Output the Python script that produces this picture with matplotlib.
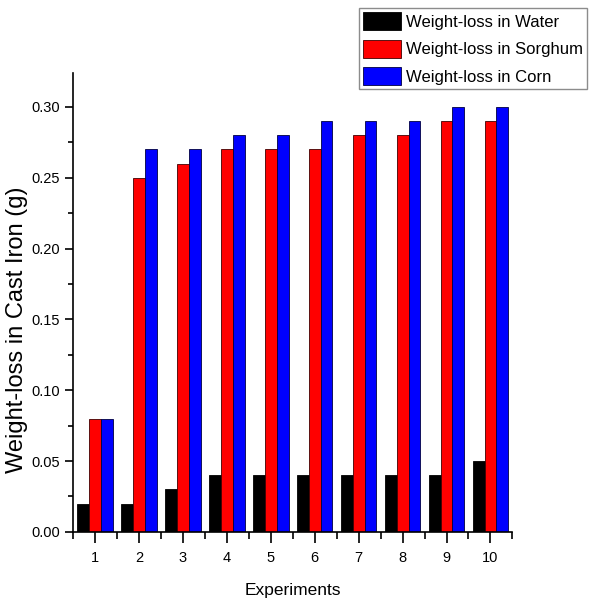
import numpy as np
import matplotlib
matplotlib.use("Agg")
import matplotlib.pyplot as plt
from matplotlib.ticker import MultipleLocator, FormatStrFormatter

plt.rcParams['font.family'] = ['Liberation Sans', 'DejaVu Sans']

# data
experiments = [1, 2, 3, 4, 5, 6, 7, 8, 9, 10]
water = [0.02, 0.02, 0.03, 0.04, 0.04, 0.04, 0.04, 0.04, 0.04, 0.05]
sorghum = [0.08, 0.25, 0.26, 0.27, 0.27, 0.27, 0.28, 0.28, 0.29, 0.29]
corn = [0.08, 0.27, 0.27, 0.28, 0.28, 0.29, 0.29, 0.29, 0.30, 0.30]
labels = ['Weight-loss in Water', 'Weight-loss in Sorghum', 'Weight-loss in Corn']

fig = plt.figure(figsize=(5.89, 6.03), dpi=100)
ax = fig.add_axes([0.124, 0.118, 0.746, 0.761])

x = np.array(experiments)
w = 0.27
ax.bar(x - w, water, w, color='black', edgecolor='black', linewidth=0.6, label=labels[0])
ax.bar(x, sorghum, w, color='#ff0000', edgecolor='#400000', linewidth=0.6, label=labels[1])
ax.bar(x + w, corn, w, color='#0000ff', edgecolor='#000040', linewidth=0.6, label=labels[2])

ax.set_xlim(0.5, 10.5)
ax.set_ylim(0, 0.324)
ax.set_xticks(experiments)
ax.xaxis.set_minor_locator(MultipleLocator(1, offset=0.5))
ax.yaxis.set_major_locator(MultipleLocator(0.05))
ax.yaxis.set_minor_locator(MultipleLocator(0.025))
ax.yaxis.set_major_formatter(FormatStrFormatter('%.2f'))

ax.spines['top'].set_visible(False)
ax.spines['right'].set_visible(False)
for s in ['left', 'bottom']:
    ax.spines[s].set_linewidth(1.2)

ax.tick_params(axis='both', which='major', direction='out', length=6, width=1.2, labelsize=10.5)
ax.tick_params(axis='both', which='minor', direction='out', length=3.5, width=1.2)
ax.tick_params(axis='x', which='major', length=8, pad=6)
ax.tick_params(axis='x', which='minor', length=5)

ax.set_xlabel('Experiments', fontsize=12.5, labelpad=13)
ax.set_ylabel('Weight-loss in Cast Iron (g)', fontsize=17)
ax.yaxis.set_label_coords(-0.102, 0.44)

leg = fig.legend(loc='upper left', bbox_to_anchor=(0.6095, 0.9867), fontsize=12,
                 frameon=True, fancybox=False, borderaxespad=0, borderpad=0.25,
                 handlelength=2.3, handleheight=1.3, handletextpad=0.25,
                 labelspacing=0.55)
leg.get_frame().set_edgecolor('#707070')
leg.get_frame().set_linewidth(1.0)

fig.savefig('out.png', dpi=100)
